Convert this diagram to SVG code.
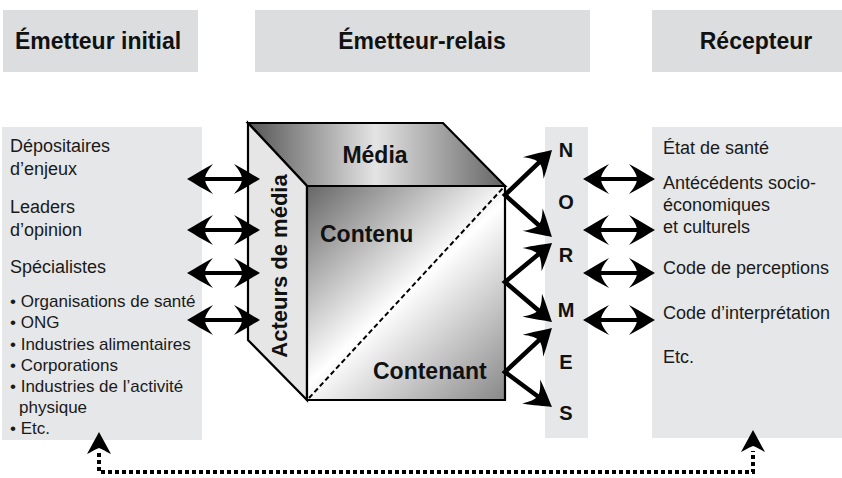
<svg xmlns="http://www.w3.org/2000/svg" width="842" height="478" viewBox="0 0 842 478">
  <style>
    .hdr { fill: #dcdddf; }
    .panel { fill: #e6e7e8; }
    .ht { font-family: "Liberation Sans", Arial, sans-serif; font-weight: bold; font-size: 23px; fill: #111; text-anchor: middle; }
    .t { font-family: "Liberation Sans", Arial, sans-serif; font-size: 18px; fill: #1a1a1a; }
    .ts { font-family: "Liberation Sans", Arial, sans-serif; font-size: 17px; fill: #1a1a1a; }
    .b { font-family: "Liberation Sans", Arial, sans-serif; font-weight: bold; fill: #111; }
    .nl { font-family: "Liberation Sans", Arial, sans-serif; font-weight: bold; font-size: 20px; fill: #111; text-anchor: middle; }
    .face { stroke: #000; stroke-width: 2.2; stroke-linejoin: miter; }
    .arr { fill: none; stroke: #000; stroke-width: 4; marker-start: url(#head); marker-end: url(#head); }
    .fan { fill: none; stroke: #000; stroke-width: 4.5; stroke-linejoin: miter; marker-start: url(#head); marker-end: url(#head); }
    .loop { fill: none; stroke: #000; stroke-width: 4; stroke-dasharray: 4 3; marker-start: url(#headUp); marker-end: url(#headUp); }
  </style>
  <defs>
    <!-- barbed arrowhead, tip 15 units beyond the line end -->
    <marker id="head" markerUnits="userSpaceOnUse" orient="auto-start-reverse" overflow="visible" markerWidth="30" markerHeight="30" refX="0" refY="0">
      <path d="M15,0 C8,-4 -1,-10 -11,-15 C-6,-9 -3,-4 -3,0 C-3,4 -6,9 -11,15 C-1,10 8,4 15,0 Z" fill="#000"/>
    </marker>
    <marker id="headUp" markerUnits="userSpaceOnUse" orient="auto-start-reverse" overflow="visible" markerWidth="30" markerHeight="30" refX="0" refY="0">
      <path d="M21,0 C14,-4 6,-8 -1,-12 C2,-6 4,-3 5,0 C4,3 2,6 -1,12 C6,8 14,4 21,0 Z" fill="#000"/>
    </marker>
    <linearGradient id="gTop" gradientUnits="userSpaceOnUse" x1="248" y1="0" x2="503" y2="0">
      <stop offset="0" stop-color="#555"/>
      <stop offset="0.5" stop-color="#e4e4e4"/>
      <stop offset="1" stop-color="#666"/>
    </linearGradient>
    <linearGradient id="gFront" gradientUnits="userSpaceOnUse" x1="307" y1="186" x2="505" y2="400">
      <stop offset="0" stop-color="#666"/>
      <stop offset="0.5" stop-color="#fff"/>
      <stop offset="1" stop-color="#888"/>
    </linearGradient>
  </defs>

  <!-- column headers -->
  <g id="hdr-initial">
    <rect class="hdr" x="3" y="10" width="195" height="62"/>
    <text class="ht" x="98" y="49">Émetteur initial</text>
  </g>
  <g id="hdr-relais">
    <rect class="hdr" x="255" y="10" width="335" height="62"/>
    <text class="ht" x="422" y="49">Émetteur-relais</text>
  </g>
  <g id="hdr-recepteur">
    <rect class="hdr" x="652" y="10" width="190" height="62"/>
    <text class="ht" x="756" y="49">Récepteur</text>
  </g>

  <!-- initial senders -->
  <g id="senders">
    <rect class="panel" x="2" y="127" width="200" height="313"/>
    <text class="t" x="10" y="152">Dépositaires</text>
    <text class="t" x="10" y="175">d’enjeux</text>
    <text class="t" x="10" y="213">Leaders</text>
    <text class="t" x="10" y="236">d’opinion</text>
    <text class="t" x="10" y="273">Spécialistes</text>
    <text class="ts" x="10" y="307">• Organisations de santé</text>
    <text class="ts" x="10" y="328">• ONG</text>
    <text class="ts" x="10" y="350">• Industries alimentaires</text>
    <text class="ts" x="10" y="371">• Corporations</text>
    <text class="ts" x="10" y="392">• Industries de l’activité</text>
    <text class="ts" x="19" y="413">physique</text>
    <text class="ts" x="10" y="434">• Etc.</text>
  </g>

  <!-- media cube -->
  <g id="cube">
    <polygon class="face" fill="url(#gTop)" points="248,123 443,123 505,186 307,186"/>
    <polygon class="face" fill="#e6e6e6" points="248,123 307,186 307,400 248,340"/>
    <polygon class="face" fill="url(#gFront)" points="307,186 505,186 505,400 307,400"/>
    <line x1="309" y1="398" x2="503" y2="188" stroke="#000" stroke-width="2" stroke-dasharray="5 3"/>
    <text class="b" x="375" y="163" font-size="23" text-anchor="middle">Média</text>
    <text class="b" x="320" y="242" font-size="23">Contenu</text>
    <text class="b" x="373" y="379" font-size="23">Contenant</text>
    <text class="b" font-size="22" text-anchor="middle" transform="translate(287,266) rotate(-90)">Acteurs de média</text>
  </g>

  <!-- norms column -->
  <g id="normes">
    <rect class="panel" x="545" y="127" width="43" height="311"/>
    <text class="nl" x="566" y="157">N</text>
    <text class="nl" x="566" y="209">O</text>
    <text class="nl" x="566" y="262">R</text>
    <text class="nl" x="566" y="317">M</text>
    <text class="nl" x="566" y="369">E</text>
    <text class="nl" x="566" y="420">S</text>
  </g>

  <!-- receiver -->
  <g id="receiver">
    <rect class="panel" x="652" y="127" width="190" height="311"/>
    <text class="t" x="663" y="154">État de santé</text>
    <text class="t" x="663" y="189">Antécédents socio-</text>
    <text class="t" x="663" y="211">économiques</text>
    <text class="t" x="663" y="233">et culturels</text>
    <text class="t" x="663" y="274">Code de perceptions</text>
    <text class="t" x="663" y="319">Code d’interprétation</text>
    <text class="t" x="663" y="363">Etc.</text>
  </g>

  <g id="connectors">
    <!-- senders to media actors -->
    <line class="arr" x1="202" y1="179" x2="245" y2="179"/>
    <line class="arr" x1="202" y1="230" x2="245" y2="230"/>
    <line class="arr" x1="202" y1="273" x2="245" y2="273"/>
    <line class="arr" x1="202" y1="320" x2="245" y2="320"/>
    <!-- cube to norms -->
    <polyline class="fan" points="541.2,160.4 505,195 540.8,227"/>
    <polyline class="fan" points="540.5,252.6 505,282 540.6,312.3"/>
    <polyline class="fan" points="541,338.3 505,372 540,398"/>
    <!-- norms to receiver -->
    <line class="arr" x1="598" y1="179" x2="640" y2="179"/>
    <line class="arr" x1="598" y1="230" x2="640" y2="230"/>
    <line class="arr" x1="598" y1="273" x2="640" y2="273"/>
    <line class="arr" x1="598" y1="320" x2="640" y2="320"/>
    <!-- feedback loop -->
    <path class="loop" d="M99,453 L99,472 L753,472 L753,451"/>
  </g>
</svg>
